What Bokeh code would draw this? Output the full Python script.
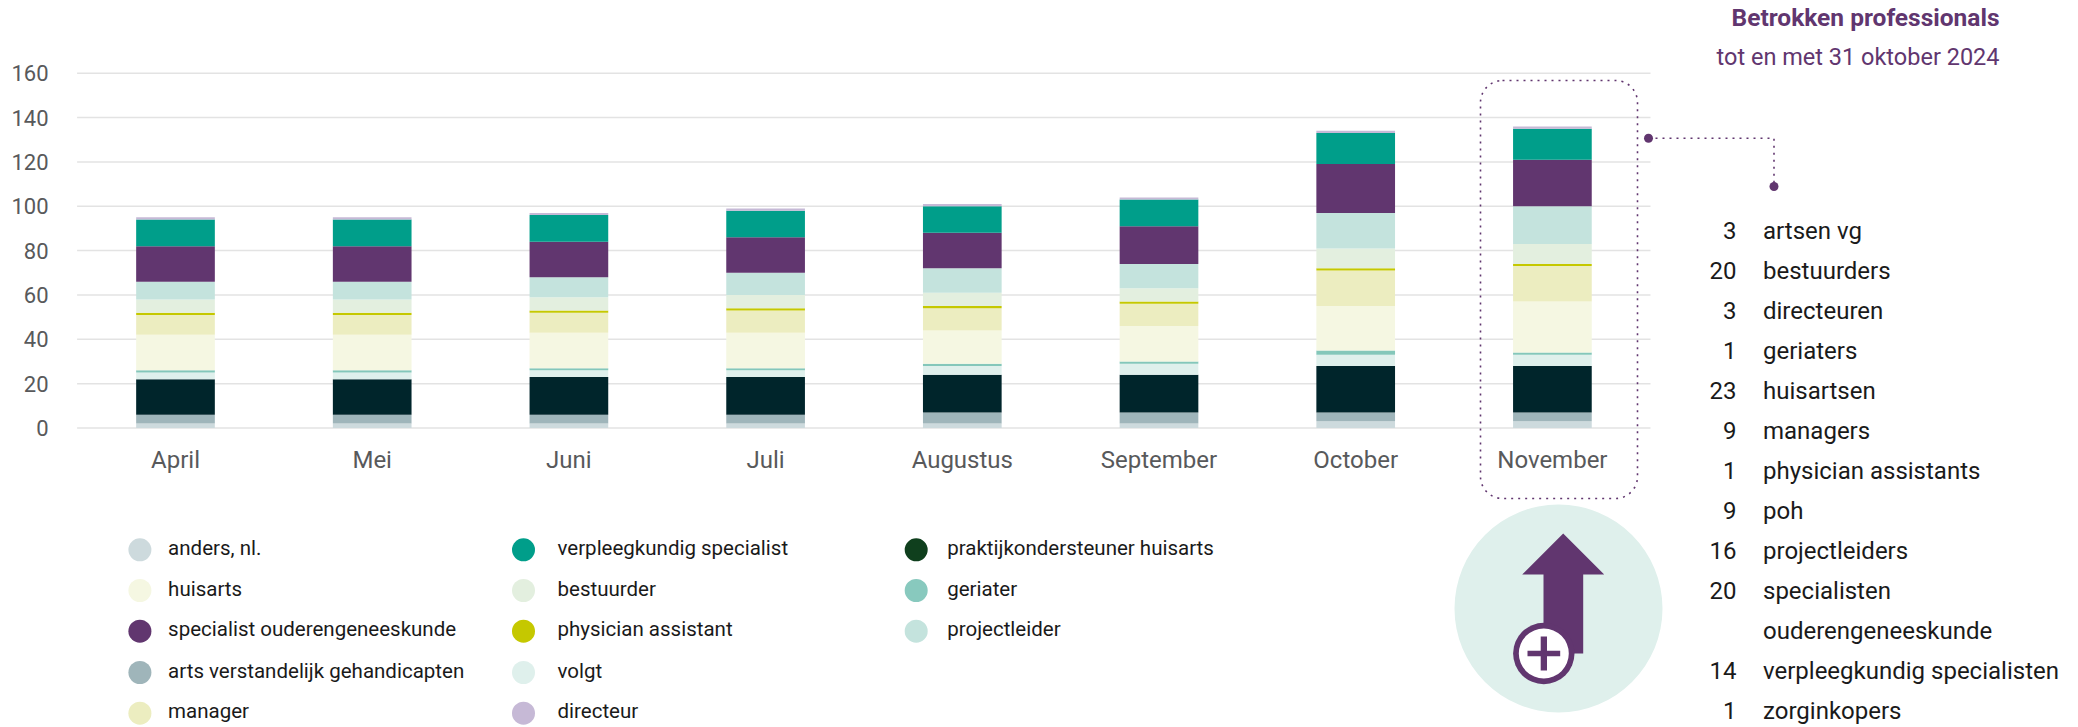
from bokeh.plotting import figure
from bokeh.models import BoxAnnotation, Range1d, FixedTicker
from bokeh.core.properties import value
from bokeh.embed import file_html
from bokeh.resources import INLINE

months = ["April", "Mei", "Juni", "Juli", "Augustus", "September", "October", "November"]
anders = [2, 2, 2, 2, 2, 2, 3, 3]
avg = [4, 4, 4, 4, 5, 5, 4, 4]
poh = [16, 16, 17, 17, 17, 17, 21, 21]
volgt = [3, 3, 3, 3, 4, 5, 5, 5]
geriater = [1, 1, 1, 1, 1, 1, 2, 1]
huisarts = [16, 16, 16, 16, 15, 16, 20, 23]
manager = [9, 9, 9, 10, 10, 10, 16, 16]
pa = [1, 1, 1, 1, 1, 1, 1, 1]
bestuurder = [6, 6, 6, 6, 6, 6, 9, 9]
projectleider = [8, 8, 9, 10, 11, 11, 16, 17]
sog = [16, 16, 16, 16, 16, 17, 22, 21]
vs = [12, 12, 12, 12, 12, 12, 14, 14]
directeur = [1, 1, 1, 1, 1, 1, 1, 1]
y_ticks = [0, 20, 40, 60, 80, 100, 120, 140, 160]

series = ["anders", "avg", "poh", "volgt", "geriater", "huisarts", "manager", "pa",
          "bestuurder", "projectleider", "sog", "vs", "directeur"]
colors = ["#cddadd", "#9fb5ba", "#00252b", "#dff0ec", "#84c7ba", "#f5f7e2", "#ecedc0", "#c5c800",
          "#e3efdf", "#c4e3dd", "#61366f", "#009e8a", "#c6b9d6"]

legend_rows = [
    [("anders, nl.", "#cddadd"), ("huisarts", "#f5f7e2"), ("specialist ouderengeneeskunde", "#61366f"),
     ("arts verstandelijk gehandicapten", "#9fb5ba"), ("manager", "#ecedc0")],
    [("verpleegkundig specialist", "#009e8a"), ("bestuurder", "#e3efdf"), ("physician assistant", "#c5c800"),
     ("volgt", "#dff0ec"), ("directeur", "#c6b9d6")],
    [("praktijkondersteuner huisarts", "#0f3f1d"), ("geriater", "#88c9be"), ("projectleider", "#c4e3dd")],
]
list_counts = ["3", "20", "3", "1", "23", "9", "1", "9", "16", "20", "", "14", "1"]
list_names = ["artsen vg", "bestuurders", "directeuren", "geriaters", "huisartsen", "managers",
              "physician assistants", "poh", "projectleiders", "specialisten", "ouderengeneeskunde",
              "verpleegkundig specialisten", "zorginkopers"]

PURPLE = "#61366f"
GREY = "#58595b"
FONT = "Roboto"
W, H = 2078, 727
U = 2.2175


def X(x):
    return (x - 175) / 196.7


def Y(y):
    return (427.5 - y) / U


p = figure(width=W, height=H, output_backend="svg", toolbar_location=None,
           x_range=Range1d(X(0), X(W)), y_range=Range1d(Y(H), Y(0)),
           min_border_left=0, min_border_right=0, min_border_top=0, min_border_bottom=0,
           outline_line_color=None, margin=(0, 0, 0, 0))
p.background_fill_color = "white"
p.grid.visible = False
p.xaxis.ticker = FixedTicker(ticks=list(range(len(months))))
p.xaxis.major_label_overrides = {i: m for i, m in enumerate(months)}
p.yaxis.ticker = FixedTicker(ticks=y_ticks)
for ax in (p.xaxis[0], p.yaxis[0]):
    ax.axis_line_color = None
    ax.major_tick_line_color = None
    ax.minor_tick_line_color = None
    ax.major_label_text_color = GREY
    ax.major_label_text_font = FONT
p.xaxis.major_label_text_font_size = "24px"
p.yaxis.major_label_text_font_size = "22px"
p.yaxis.major_label_standoff = -54
p.xaxis.major_label_standoff = -(H - 439)

p.segment(x0=[X(76.6)] * len(y_ticks), x1=[X(1650)] * len(y_ticks), y0=y_ticks, y1=y_ticks,
          line_color="#e3e3e3", line_width=1.5)

data = dict(x=list(range(len(months))), anders=anders, avg=avg, poh=poh, volgt=volgt, geriater=geriater,
            huisarts=huisarts, manager=manager, pa=pa, bestuurder=bestuurder,
            projectleider=projectleider, sog=sog, vs=vs, directeur=directeur)
p.vbar_stack(series, x="x", width=0.4, color=colors, source=data, line_color=None)


def text(x, y, s, color="#1a1a1a", size=20, align="left", style="normal"):
    p.text(x=[X(x)], y=[Y(y)], text=[s], text_color=color, text_font=value(FONT),
           text_font_size=f"{size}px", text_align=align, text_baseline="alphabetic",
           text_font_style=style)


def disc(cx, cy, r, color):
    p.scatter(x=[X(cx)], y=[Y(cy)], size=2 * r, marker="circle", fill_color=color, line_color=None)


def dotted(xs, ys):
    p.line(x=[X(v) for v in xs], y=[Y(v) for v in ys], line_color=PURPLE, line_width=1.6, line_dash="2 5")


def bar(x0, x1, y0, y1):
    p.quad(left=[X(x0)], right=[X(x1)], top=[Y(y0)], bottom=[Y(y1)], fill_color=PURPLE, line_color=None)


# title
text(1999, 17, "Betrokken professionals", PURPLE, 24.5, "right", style="bold")
text(1999, 56, "tot en met 31 oktober 2024", PURPLE, 23.5, "right")

# dotted frame
p.add_layout(BoxAnnotation(left=X(1480), right=X(1637), top=Y(80), bottom=Y(498),
                           fill_alpha=0, line_color=PURPLE, line_alpha=1, line_width=1.6,
                           line_dash="2 5", border_radius=22))
# connector
dotted([1648, 1773.5, 1773.5], [137.7, 137.7, 186])
disc(1648, 137.7, 4.5, PURPLE)
disc(1773.5, 186, 4.5, PURPLE)

# right list
for i, (c, n) in enumerate(zip(list_counts, list_names)):
    base = 230 + i * 40
    if c:
        text(1736, base, c, size=24, align="right")
    text(1762.5, base, n, size=24)

# legend
col_x = [139.4, 523, 915.7]
col_text = [167.6, 557, 946.7]
row_y = [549.3, 590, 630.7, 672, 712.7]
for cx, tx, col in zip(col_x, col_text, legend_rows):
    for ry, (name, color) in zip(row_y, col):
        disc(cx, ry, 11.5, color)
        text(tx, ry - 2, name, size=20.5)

# icon
disc(1558, 608, 104, "#dff0ec")
p.patch(x=[X(v) for v in [1562.7, 1603.7, 1582.7, 1582.7, 1543, 1543, 1521.7]],
        y=[Y(v) for v in [533, 574, 574, 653, 653, 574, 574]], fill_color=PURPLE, line_color=None)
disc(1543.3, 653, 30.7, PURPLE)
disc(1543.3, 653, 25, "white")
bar(1527, 1559.7, 650.3, 655.7)
bar(1540.2, 1546.5, 636, 670)

open("out.html", "w").write(file_html(p, INLINE))
